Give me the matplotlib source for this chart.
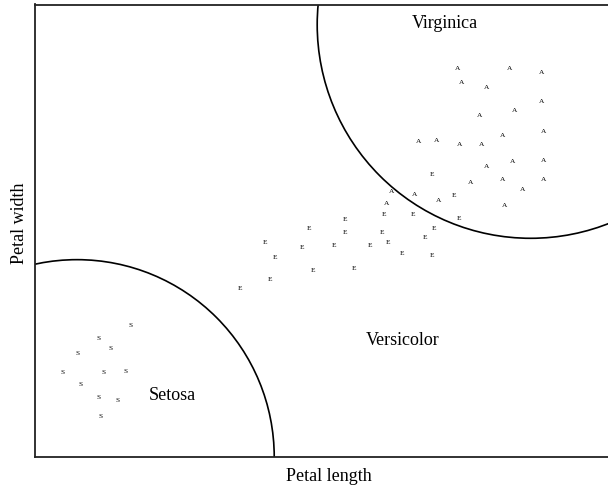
import matplotlib
matplotlib.use("Agg")
import matplotlib.pyplot as plt
from matplotlib.patches import Ellipse

# Petal measurements per species (length, width)
setosa_length = [2.00, 1.67, 1.79, 1.45, 1.29, 1.72, 1.95, 1.48, 1.67, 1.86, 1.69]
setosa_width = [1.05, 0.94, 0.86, 0.82, 0.67, 0.67, 0.68, 0.58, 0.47, 0.45, 0.32]

versicolor_length = [5.16, 5.39, 4.65, 4.96, 5.44, 4.25, 3.87, 4.25, 4.63, 5.18,
                     5.08, 3.41, 3.80, 4.13, 4.51, 4.70, 3.51, 4.84, 5.16, 3.91,
                     4.34, 3.46, 3.15]
versicolor_width = [2.25, 2.08, 1.93, 1.93, 1.90, 1.89, 1.82, 1.79, 1.79, 1.82,
                    1.75, 1.71, 1.67, 1.68, 1.68, 1.71, 1.59, 1.62, 1.60, 1.48,
                    1.50, 1.41, 1.34]

virginica_length = [5.42, 5.97, 6.30, 5.47, 5.73, 6.30, 6.02, 5.66, 6.33, 5.90,
                    5.02, 5.21, 5.45, 5.68, 5.73, 6.00, 6.33, 5.56, 5.90, 6.11,
                    6.33, 4.73, 4.97, 5.23, 4.68, 5.92]
virginica_width = [3.09, 3.09, 3.06, 2.98, 2.94, 2.83, 2.76, 2.72, 2.59, 2.56,
                   2.51, 2.52, 2.49, 2.49, 2.31, 2.35, 2.36, 2.18, 2.21, 2.13,
                   2.21, 2.11, 2.09, 2.04, 2.02, 2.00]

species_symbols = ["S", "E", "A"]
region_names = ["Setosa", "Versicolor", "Virginica"]

serif = ["Liberation Serif", "DejaVu Serif"]

fig = plt.figure(figsize=(6.08, 4.91), dpi=100)
ax = fig.add_axes([35 / 608, 34 / 491, 573 / 608, 452.5 / 491])
ax.set_xlim(1.0, 7.0)
ax.set_ylim(0.0, 3.6)

groups = [
    (setosa_length, setosa_width, species_symbols[0]),
    (versicolor_length, versicolor_width, species_symbols[1]),
    (virginica_length, virginica_width, species_symbols[2]),
]
for xs, ys, sym in groups:
    for x, y in zip(xs, ys):
        ax.text(x, y, sym, family=serif, fontsize=5.3, color="black",
                ha="center", va="center")

# Decision boundaries around the setosa and virginica clusters
ax.add_patch(Ellipse((1.44, 0.0), 4.13, 3.14, fill=False, lw=1.2,
                     color="black"))
ax.add_patch(Ellipse((6.19, 3.44), 4.47, 3.40, fill=False, lw=1.2,
                     color="black"))

# Region names
ax.text(2.44, 0.49, region_names[0], family=serif, fontsize=13,
        ha="center", va="center")
ax.text(4.85, 0.93, region_names[1], family=serif, fontsize=13,
        ha="center", va="center")
ax.text(5.29, 3.45, region_names[2], family=serif, fontsize=13,
        ha="center", va="center")

ax.set_xticks([])
ax.set_yticks([])
ax.spines["right"].set_visible(False)
for side in ["left", "top", "bottom"]:
    ax.spines[side].set_linewidth(1.3)
    ax.spines[side].set_color("#222222")

ax.set_xlabel("Petal length", family=serif, fontsize=13)
ax.set_ylabel("Petal width", family=serif, fontsize=13)
ax.xaxis.label.set_va("center")
ax.yaxis.label.set_va("center")
ax.xaxis.set_label_coords(0.5126, -0.0435)
ax.yaxis.set_label_coords(-0.0262, 0.5165)

fig.savefig("out.png", dpi=100)
